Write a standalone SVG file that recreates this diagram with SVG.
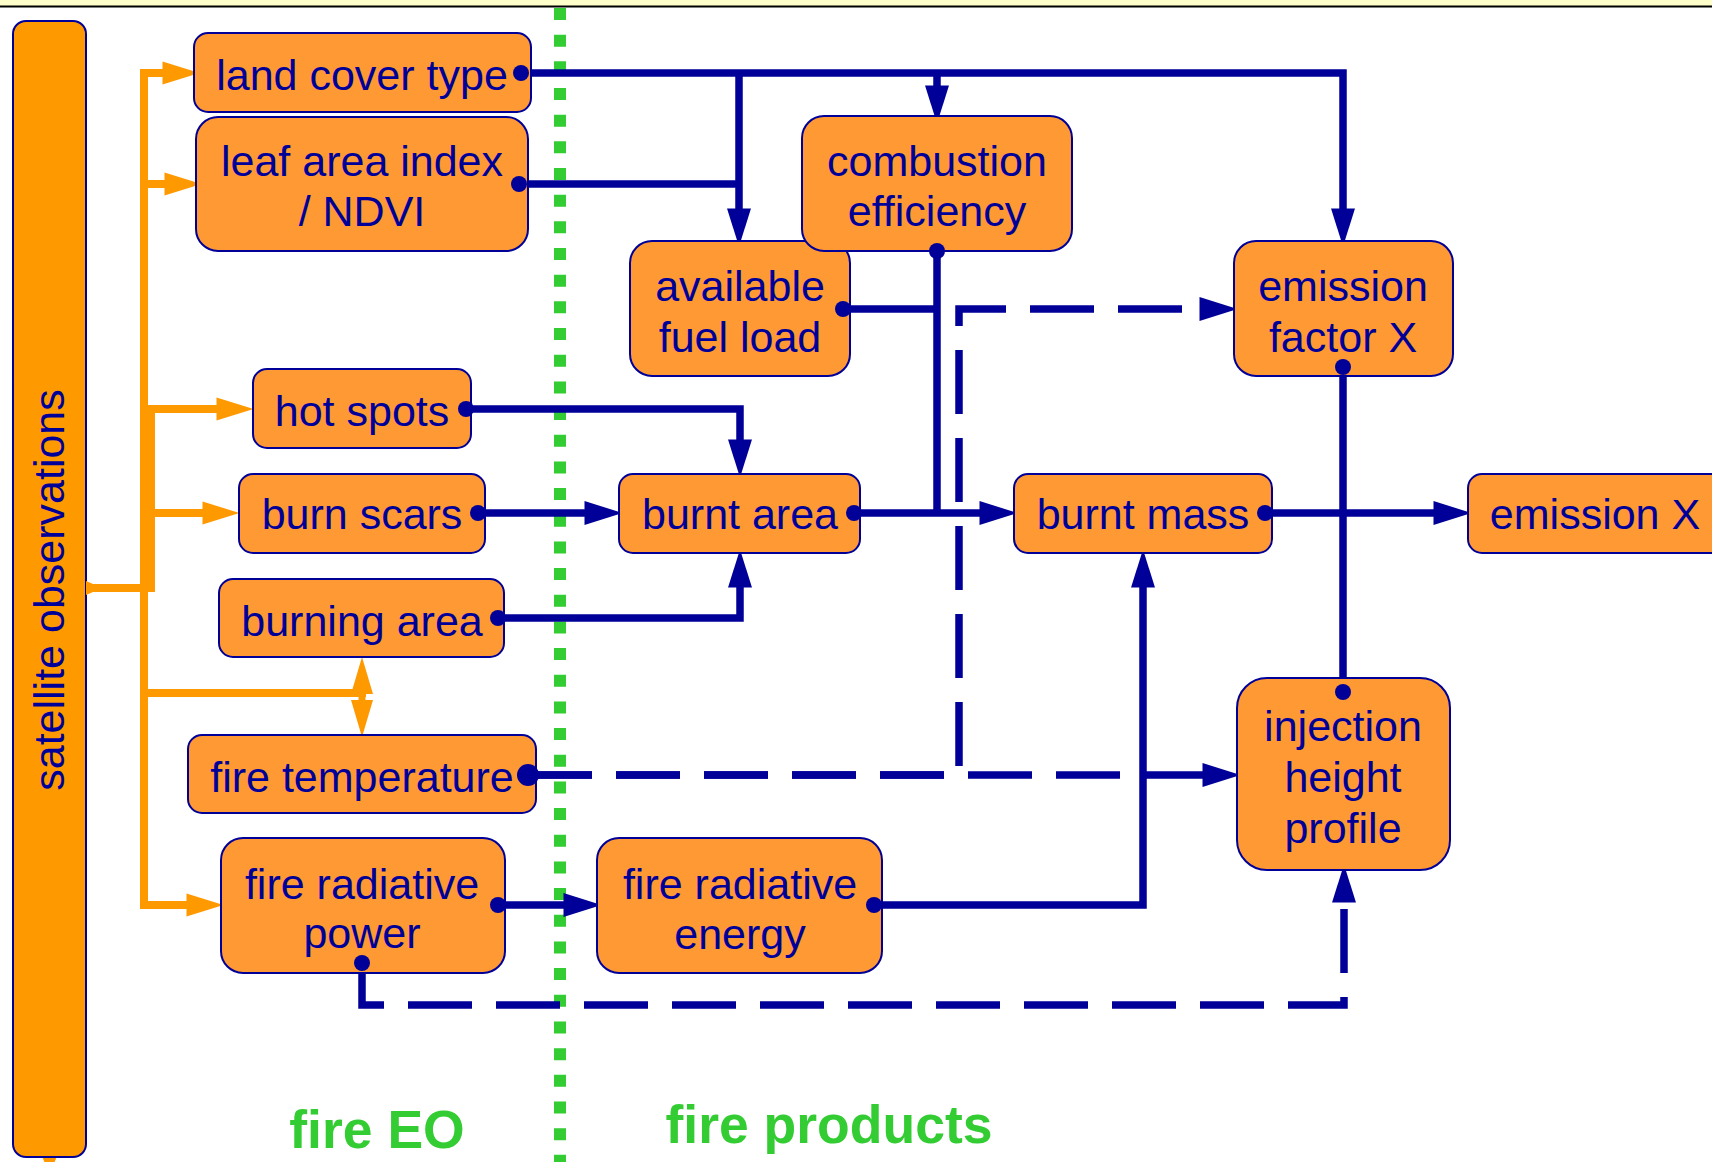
<svg xmlns="http://www.w3.org/2000/svg" width="1712" height="1162" viewBox="0 0 1712 1162">
<style>
.node rect{fill:#ff9933;stroke:#000099;stroke-width:2}
.node text,.bar text{font-family:"Liberation Sans",Arial,Helvetica,sans-serif;font-size:43px;fill:#000099;text-anchor:middle}
.blue{fill:none;stroke:#000099;stroke-width:7.5;stroke-linejoin:miter}
.dash{stroke-dasharray:64 24}
.orange{fill:none;stroke:#ff9900;stroke-width:8;stroke-linejoin:miter}
.dot{fill:#000099}
.lbl{font-family:"Liberation Sans",Arial,Helvetica,sans-serif;font-size:53.5px;font-weight:bold;fill:#33cc33}
</style>
<defs>
<marker id="ab" markerUnits="userSpaceOnUse" markerWidth="40" markerHeight="26" viewBox="0 -13 40 26" refX="0.5" refY="0" orient="auto" overflow="visible">
<path d="M0,-12 L38,0 L0,12 z" fill="#000099"/>
</marker>
<marker id="ao" markerUnits="userSpaceOnUse" markerWidth="40" markerHeight="26" viewBox="0 -13 40 26" refX="0.5" refY="0" orient="auto" overflow="visible">
<path d="M0,-11.5 L37,0 L0,11.5 z" fill="#ff9900"/>
</marker>
</defs>
<rect x="0" y="0" width="1712" height="1162" fill="#ffffff"/>
<rect x="0" y="0" width="1712" height="6" fill="#ffffcc"/>
<line x1="0" y1="6.5" x2="1712" y2="6.5" stroke="#000000" stroke-width="2"/>
<line x1="560" y1="8" x2="560" y2="1162" stroke="#33cc33" stroke-width="12" stroke-dasharray="12 14.67"/>

<g id="satellite-observations" class="bar">
<polygon points="42,1156 57,1156 49.5,1175" fill="#ff9900"/>
<rect x="13" y="21" width="73" height="1136" rx="13" fill="#ff9900" stroke="#000099" stroke-width="2"/>
<text transform="translate(64,590) rotate(-90)">satellite observations</text>
</g>

<g id="connectors">
<g id="orange-connectors">
<polygon points="86,581 93,584 93,592 86,595" fill="#ff9900"/>
<path class="orange" d="M144,905 V73 H163" marker-end="url(#ao)"/>
<path class="orange" d="M144,184 H165" marker-end="url(#ao)"/>
<path class="orange" d="M87,588 H151 V409 H217" marker-end="url(#ao)"/>
<path class="orange" d="M151,513 H203" marker-end="url(#ao)"/>
<path class="orange" d="M140,905 H187" marker-end="url(#ao)"/>
<path class="orange" d="M144,693 H366"/>
<line x1="362" y1="690" x2="362" y2="703" stroke="#ff9900" stroke-width="7"/>
<polygon points="351,694 373,694 362,657" fill="#ff9900"/>
<polygon points="351,700 373,700 362,737" fill="#ff9900"/>
</g>
<g id="blue-connectors">
<path class="blue" d="M521,73 H1343 V209" marker-end="url(#ab)"/>
<path class="blue" d="M739,73 V209" marker-end="url(#ab)"/>
<path class="blue" d="M937,73 V86" marker-end="url(#ab)"/>
<path class="blue" d="M519,184 H739"/>
<path class="blue" d="M937,251 V513"/>
<path class="blue" d="M843,309 H937"/>
<path class="blue" d="M1343,367 V692"/>
<path class="blue" d="M466,409 H740 V440" marker-end="url(#ab)"/>
<path class="blue" d="M478,513 H585" marker-end="url(#ab)"/>
<path class="blue" d="M498,618 H740 V587" marker-end="url(#ab)"/>
<path class="blue" d="M854,513 H980" marker-end="url(#ab)"/>
<path class="blue" d="M1265,513 H1434" marker-end="url(#ab)"/>
<path class="blue" d="M498,905 H564" marker-end="url(#ab)"/>
<path class="blue" d="M874,905 H1143 V587" marker-end="url(#ab)"/>
<path class="blue dash" d="M528,775 H1203" marker-end="url(#ab)"/>
<path class="blue dash" d="M528,775 H959 V309 H1200" marker-end="url(#ab)"/>
<path class="blue dash" d="M362,963 V1005 H1344 V902" marker-end="url(#ab)"/>
</g>
</g>

<g id="node-land-cover-type" class="node"><rect x="194" y="33" width="337" height="79" rx="14"/><text x="362" y="90">land cover type</text></g>
<g id="node-leaf-area-index" class="node"><rect x="196" y="117" width="332" height="134" rx="22"/><text x="362" y="176">leaf area index</text><text x="362" y="226">/ NDVI</text></g>
<g id="node-hot-spots" class="node"><rect x="253" y="369" width="218" height="79" rx="14"/><text x="362" y="426">hot spots</text></g>
<g id="node-burn-scars" class="node"><rect x="239" y="474" width="246" height="79" rx="14"/><text x="362" y="529">burn scars</text></g>
<g id="node-burning-area" class="node"><rect x="219" y="579" width="285" height="78" rx="14"/><text x="362" y="636">burning area</text></g>
<g id="node-fire-temperature" class="node"><rect x="188" y="735" width="348" height="78" rx="14"/><text x="362" y="792">fire temperature</text></g>
<g id="node-fire-radiative-power" class="node"><rect x="221" y="838" width="284" height="135" rx="22"/><text x="362" y="899">fire radiative</text><text x="362" y="948">power</text></g>
<g id="node-available-fuel-load" class="node"><rect x="630" y="241" width="220" height="135" rx="22"/><text x="740" y="301">available</text><text x="740" y="352">fuel load</text></g>
<g id="node-combustion-efficiency" class="node"><rect x="802" y="116" width="270" height="135" rx="22"/><text x="937" y="176">combustion</text><text x="937" y="226">efficiency</text></g>
<g id="node-emission-factor" class="node"><rect x="1234" y="241" width="219" height="135" rx="22"/><text x="1343" y="301">emission</text><text x="1343" y="352">factor X</text></g>
<g id="node-burnt-area" class="node"><rect x="619" y="474" width="241" height="79" rx="14"/><text x="740" y="529">burnt area</text></g>
<g id="node-burnt-mass" class="node"><rect x="1014" y="474" width="258" height="79" rx="14"/><text x="1143" y="529">burnt mass</text></g>
<g id="node-emission-x" class="node"><rect x="1468" y="474" width="260" height="79" rx="14"/><text x="1595" y="529">emission X</text></g>
<g id="node-injection-height-profile" class="node"><rect x="1237" y="678" width="213" height="192" rx="30"/><text x="1343" y="741">injection</text><text x="1343" y="792">height</text><text x="1343" y="843">profile</text></g>
<g id="node-fire-radiative-energy" class="node"><rect x="597" y="838" width="285" height="135" rx="22"/><text x="740" y="899">fire radiative</text><text x="740" y="949">energy</text></g>

<g id="connector-dots">
<circle class="dot" cx="521" cy="73" r="8"/>
<circle class="dot" cx="519" cy="184" r="8"/>
<circle class="dot" cx="937" cy="251" r="8"/>
<circle class="dot" cx="843" cy="309" r="8"/>
<circle class="dot" cx="1343" cy="367" r="8"/>
<circle class="dot" cx="1343" cy="692" r="8"/>
<circle class="dot" cx="466" cy="409" r="8"/>
<circle class="dot" cx="478" cy="513" r="8"/>
<circle class="dot" cx="498" cy="618" r="8"/>
<circle class="dot" cx="854" cy="513" r="8"/>
<circle class="dot" cx="1265" cy="513" r="8"/>
<circle class="dot" cx="498" cy="905" r="8"/>
<circle class="dot" cx="874" cy="905" r="8"/>
<circle class="dot" cx="528" cy="775" r="11"/>
<circle class="dot" cx="362" cy="963" r="8"/>
</g>

<g id="labels">
<text class="lbl" x="377" y="1148" text-anchor="middle">fire EO</text>
<text class="lbl" x="829" y="1143" text-anchor="middle">fire products</text>
</g>
</svg>
